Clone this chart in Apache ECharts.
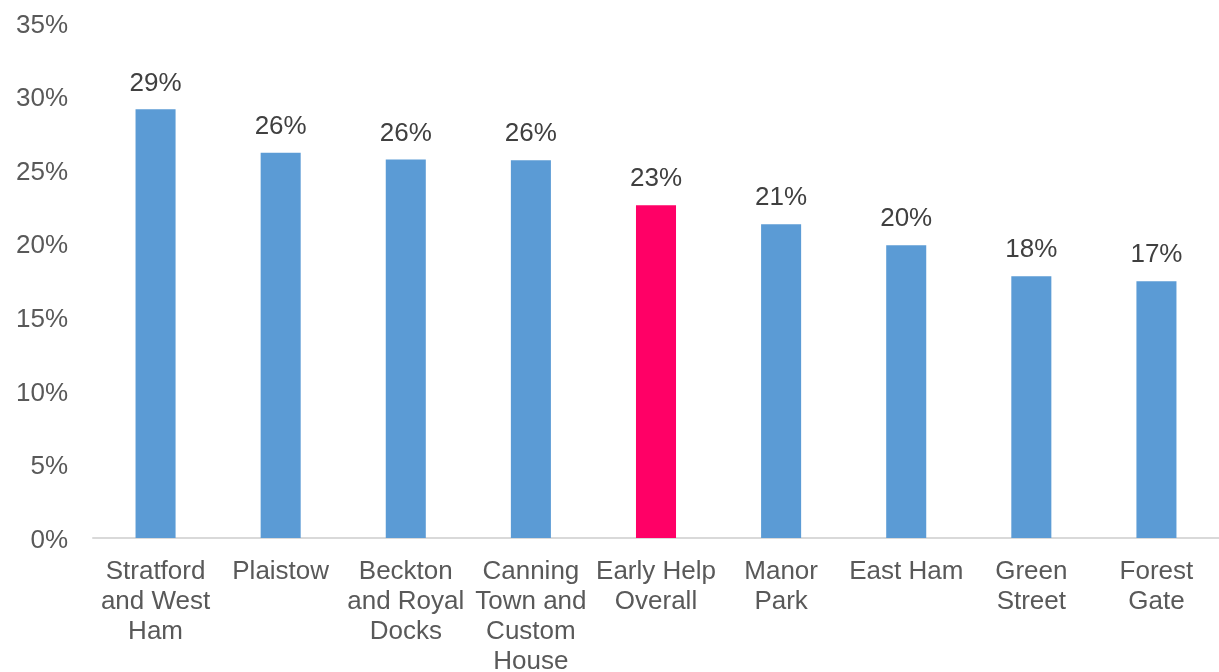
<!DOCTYPE html>
<html>
<head>
<meta charset="utf-8">
<title>Early Help by area</title>
<script src="https://cdn.jsdelivr.net/npm/echarts@6/dist/echarts.min.js"></script>
<style>
    html, body { margin: 0; padding: 0; background: #fff; }
    #chart { width: 1219px; height: 672px; }
</style>
</head>
<body>
<div id="chart"></div>
<script>
// area names (wrapped as in the original)
var areas = [
    'Stratford\nand West\nHam',
    'Plaistow',
    'Beckton\nand Royal\nDocks',
    'Canning\nTown and\nCustom\nHouse',
    'Early Help\nOverall',
    'Manor\nPark',
    'East Ham',
    'Green\nStreet',
    'Forest\nGate'
];
// share, in percent
var shares = [29.13, 26.18, 25.73, 25.68, 22.62, 21.33, 19.9, 17.79, 17.45];
// which bar is the overall figure
var overallIndex = 4;

var yTicks = { min: 0, max: 35, step: 5 };

var FONT = '"Liberation Sans", Arial, sans-serif';

var chart = echarts.init(document.getElementById('chart'));

var barData = shares.map(function (v, i) {
    return {
        value: v,
        itemStyle: { color: i === overallIndex ? '#FF0066' : '#5B9BD5' }
    };
});

var option = {
    animation: false,
    textStyle: { fontFamily: FONT },
    grid: {
        left: 93, right: 0, top: 23, bottom: 134,
        containLabel: false,
        outerBoundsMode: 'none'
    },
    xAxis: {
        type: 'category',
        data: areas,
        axisLine: { lineStyle: { color: '#d9d9d9', width: 2 } },
        axisTick: { show: false },
        axisLabel: {
            color: '#595959',
            fontFamily: FONT,
            fontSize: 26,
            lineHeight: 30,
            margin: 19,
            interval: 0,
            align: 'center'
        }
    },
    yAxis: {
        type: 'value',
        min: yTicks.min,
        max: yTicks.max,
        interval: yTicks.step,
        splitLine: { show: false },
        axisLine: { show: false },
        axisTick: { show: false },
        axisLabel: {
            color: '#595959',
            fontFamily: FONT,
            fontSize: 26,
            margin: 25,
            formatter: '{t|{value}%}',
            rich: {
                t: { fontSize: 26, fontFamily: FONT, color: '#595959', padding: [5, 0, 0, 0] }
            }
        }
    },
    series: [{
        type: 'bar',
        data: barData,
        barWidth: '32%',
        label: {
            show: true,
            position: 'top',
            distance: 13,
            color: '#404040',
            fontFamily: FONT,
            fontSize: 26,
            formatter: function (p) { return Math.round(p.value) + '%'; }
        }
    }]
};

chart.setOption(option);
</script>
</body>
</html>
